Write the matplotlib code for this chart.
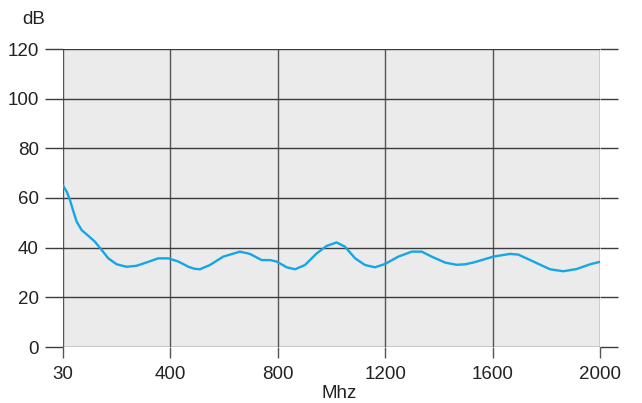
import matplotlib
matplotlib.use("Agg")
import matplotlib.pyplot as plt
import numpy as np

plt.rcParams["font.family"] = ["Liberation Sans", "DejaVu Sans"]

# частота, МГц -> уровень, дБ
freq = [30, 43, 54, 66, 77, 94, 117, 140, 163, 186, 215, 249, 283, 319, 358,
        393, 430, 467, 490, 510, 547, 597, 659, 696, 740, 771, 796, 833, 864,
        901, 945, 982, 1019, 1050, 1088, 1125, 1162, 1199, 1249, 1299, 1336,
        1373, 1423, 1466, 1497, 1528, 1603, 1665, 1696, 1752, 1814, 1863,
        1913, 1963, 2000]
level = [65.0, 62.5, 59.2, 54.5, 50.5, 47.1, 44.8, 42.4, 39.1, 35.7, 33.3,
         32.3, 32.7, 34.1, 35.7, 35.7, 34.4, 32.3, 31.5, 31.3, 33.0, 36.4,
         38.4, 37.5, 35.0, 35.0, 34.4, 32.1, 31.3, 33.0, 37.7, 40.7, 42.1,
         40.4, 35.7, 33.0, 32.1, 33.4, 36.4, 38.4, 38.4, 36.4, 34.0, 33.1,
         33.3, 34.0, 36.4, 37.5, 37.2, 34.4, 31.3, 30.5, 31.4, 33.3, 34.3]

xticks = [30, 400, 800, 1200, 1600, 2000]
yticks = [0, 20, 40, 60, 80, 100, 120]


def pos(f):
    # шкала неравномерная: 30 стоит на месте нуля
    return np.interp(f, [30, 400, 2000], [0, 400, 2000])


fig = plt.figure(figsize=(6.42, 4.03), dpi=100)
ax = fig.add_axes([63 / 642, 56 / 403, 537 / 642, 298 / 403])
ax.set_facecolor("#ebebeb")

ax.plot(pos(freq), level, color="#14a6e6", lw=1.7, solid_joinstyle="round",
        solid_capstyle="round", zorder=3)

ax.set_xlim(0, 2000)
ax.set_ylim(0, 120)
ax.set_xticks(pos(xticks))
ax.set_xticklabels([str(v) for v in xticks])
ax.set_yticks(yticks)

for s in ax.spines.values():
    s.set_visible(False)

ax.grid(True, color="#3c3c3c", lw=1.0)
for g in ax.get_xgridlines():
    g.set_color("#555555")
ax.tick_params(axis="y", which="both", left=True, right=True, length=13,
               width=1.0, color="#3c3c3c", labelsize=13.5, pad=4.5,
               labelcolor="#222222")
ax.tick_params(axis="x", length=8, width=1.0, color="#555555",
               labelsize=13.5, pad=5.5, labelcolor="#222222")

fig.text(34 / 642, 1 - 19.5 / 403, "dB", ha="center", va="center",
         fontsize=13.5, color="#222222")
fig.text(339 / 642, 1 - 394 / 403, "Mhz", ha="center", va="center",
         fontsize=13.5, color="#222222")

fig.savefig("out.png", dpi=100)
